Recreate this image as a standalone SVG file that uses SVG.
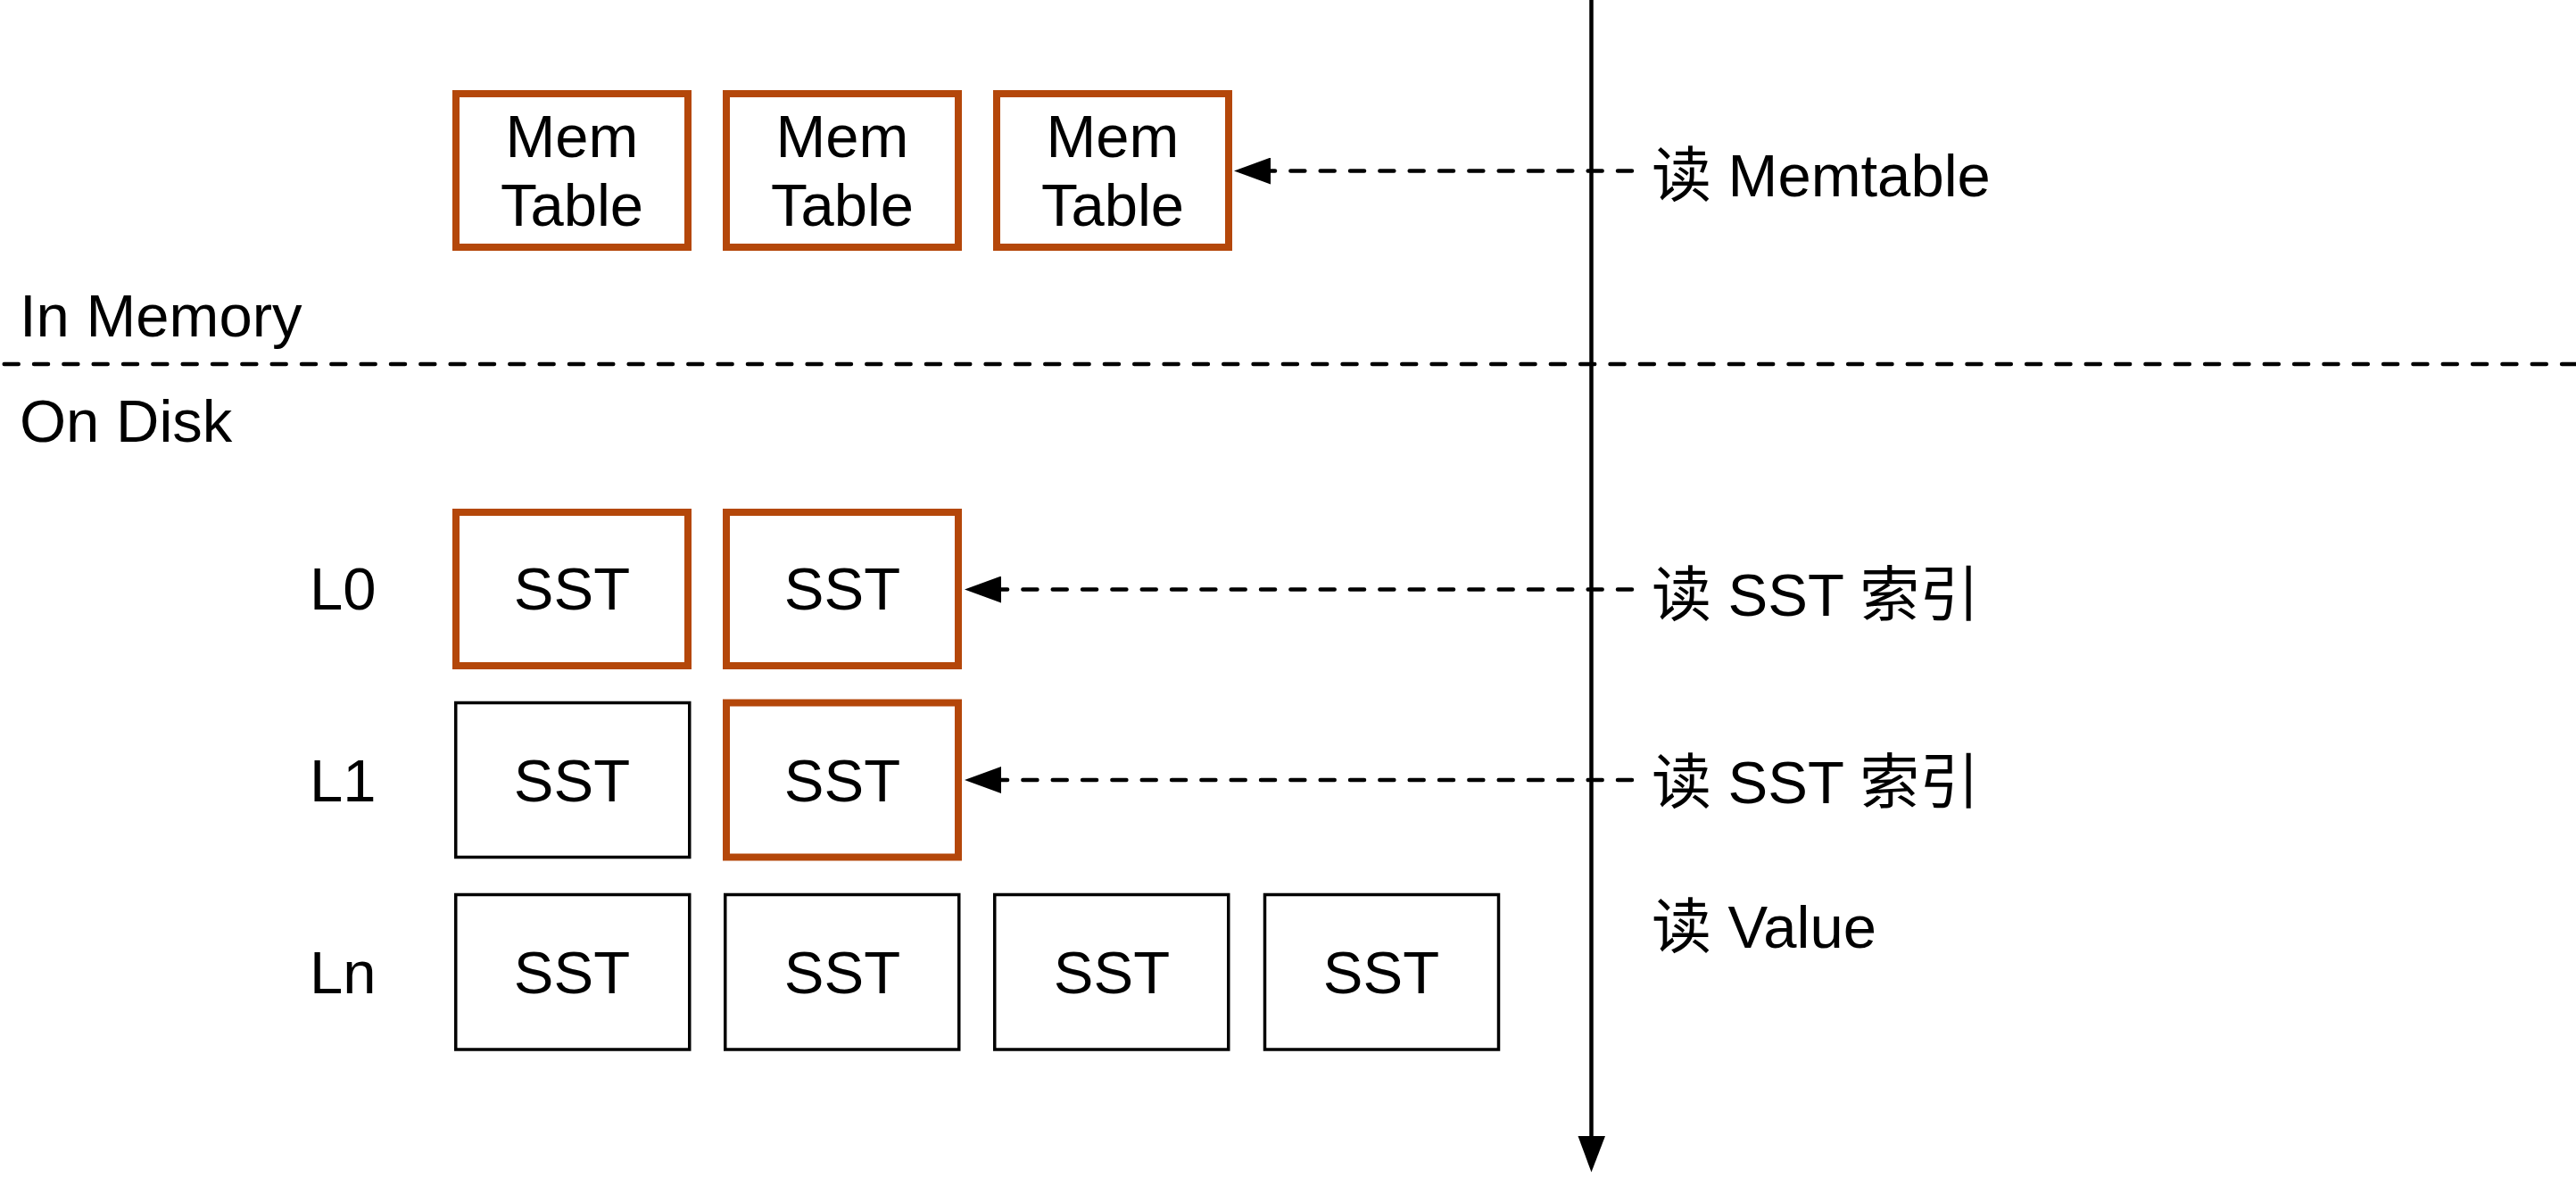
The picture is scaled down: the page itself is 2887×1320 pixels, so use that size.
<svg xmlns="http://www.w3.org/2000/svg" width="2887" height="1320" viewBox="0 0 2887 1320">
  <style>
    text { font-family: "Liberation Sans", "Noto Sans CJK SC", sans-serif; font-size: 67px; fill: #000; }
    .c { text-anchor: middle; }
    .hot { fill: #fff; stroke: #B4470A; stroke-width: 8; }
    .cold { fill: #fff; stroke: #000; stroke-width: 3.5; }
    .dash { fill: none; stroke: #000; stroke-width: 4.5; stroke-dasharray: 16 17.33; stroke-linecap: round; }
  </style>
  <defs>
    <marker id="arrow" viewBox="0 0 41 30" markerWidth="41" markerHeight="30" refX="0" refY="15" orient="auto" markerUnits="userSpaceOnUse">
      <path d="M0,0 L41,15 L0,30 Z" fill="#000"/>
    </marker>
  </defs>
  <rect width="2887" height="1320" fill="#fff"/>

  <g id="labels">
    <text x="22" y="377">In Memory</text>
    <text x="22" y="495">On Disk</text>
    <text x="347" y="683">L0</text>
    <text x="347" y="898">L1</text>
    <text x="347" y="1113">Ln</text>
    <text x="1851" y="220">读 Memtable</text>
    <text x="1851" y="690">读 SST 索引</text>
    <text x="1851" y="900">读 SST 索引</text>
    <text x="1851" y="1062">读 Value</text>
  </g>

  <g id="mem1"><rect class="hot" x="511" y="105" width="260" height="172"/><text class="c" x="641" y="176">Mem</text><text class="c" x="641" y="253">Table</text></g>
  <g id="mem2"><rect class="hot" x="814" y="105" width="260" height="172"/><text class="c" x="944" y="176">Mem</text><text class="c" x="944" y="253">Table</text></g>
  <g id="mem3"><rect class="hot" x="1117" y="105" width="260" height="172"/><text class="c" x="1247" y="176">Mem</text><text class="c" x="1247" y="253">Table</text></g>

  <g id="l0-sst1"><rect class="hot" x="511" y="574" width="260" height="172"/><text class="c" x="641" y="683">SST</text></g>
  <g id="l0-sst2"><rect class="hot" x="814" y="574" width="260" height="172"/><text class="c" x="944" y="683">SST</text></g>

  <g id="l1-sst1"><rect class="cold" x="510.75" y="787.5" width="262" height="173"/><text class="c" x="641" y="898">SST</text></g>
  <g id="l1-sst2"><rect class="hot" x="814" y="787.5" width="260" height="173"/><text class="c" x="944" y="898">SST</text></g>

  <g id="ln-sst1"><rect class="cold" x="510.75" y="1002.5" width="262" height="173.5"/><text class="c" x="641" y="1113">SST</text></g>
  <g id="ln-sst2"><rect class="cold" x="812.75" y="1002.5" width="262" height="173.5"/><text class="c" x="944" y="1113">SST</text></g>
  <g id="ln-sst3"><rect class="cold" x="1114.75" y="1002.5" width="262" height="173.5"/><text class="c" x="1246" y="1113">SST</text></g>
  <g id="ln-sst4"><rect class="cold" x="1417.5" y="1002.5" width="262" height="173.5"/><text class="c" x="1548" y="1113">SST</text></g>

  <g id="connectors">
    <path class="dash" d="M4.7,408 H2887"/>
    <path d="M1783.5,0 V1274" stroke="#000" stroke-width="4.5" fill="none"/>
    <path d="M1768.5,1273 L1799,1273 L1783.5,1313.5 Z" fill="#000"/>
    <path class="dash" d="M1829,191.5 H1424" marker-end="url(#arrow)"/>
    <path class="dash" d="M1829,660.5 H1122" marker-end="url(#arrow)"/>
    <path class="dash" d="M1829,874 H1122" marker-end="url(#arrow)"/>
  </g>
</svg>
